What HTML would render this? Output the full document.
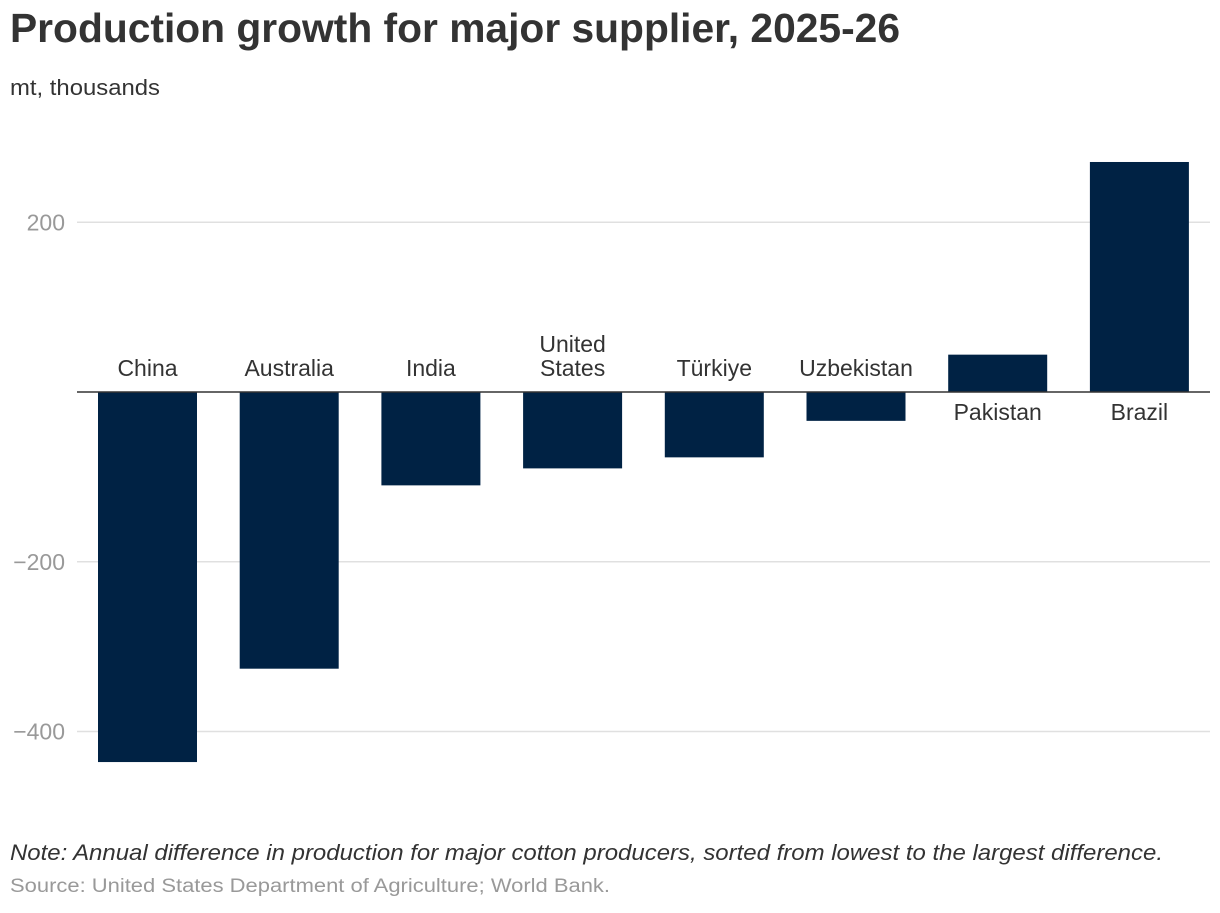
<!DOCTYPE html>
<html><head><meta charset="utf-8"><style>
body{margin:0;background:#fff;width:1220px;height:908px;overflow:hidden;font-family:"Liberation Sans",Arial,sans-serif}
svg text{font-family:"Liberation Sans",Arial,sans-serif}
</style></head><body>
<svg width="1220" height="908">
<text x="10" y="42" font-size="41" font-weight="bold" fill="#333" textLength="890" lengthAdjust="spacingAndGlyphs">Production growth for major supplier, 2025-26</text>
<text x="10" y="95" font-size="22" fill="#333" textLength="150" lengthAdjust="spacingAndGlyphs">mt, thousands</text>
<g id="grid"></g><g id="bars"></g><g id="labels"></g>
<text x="10" y="860" font-size="22" font-style="italic" fill="#333" textLength="1153" lengthAdjust="spacingAndGlyphs">Note: Annual difference in production for major cotton producers, sorted from lowest to the largest difference.</text>
<text x="10" y="892" font-size="19" fill="#999" textLength="600" lengthAdjust="spacingAndGlyphs">Source: United States Department of Agriculture; World Bank.</text>
</svg>
<script>
const categories=["China","Australia","India","United States","Türkiye","Uzbekistan","Pakistan","Brazil"];
const values=[-436,-326,-110,-90,-77,-34,44,271];
const ticks=[200,-200,-400];
const tickLabels=["200","\u2212200","\u2212400"];
const NS="http://www.w3.org/2000/svg";
const y0=392,k=169.75/200,step=141.7,bw=99,xs=98-(step-bw)/2;
const y=v=>y0-v*k;
const x=i=>xs+i*step+(step-bw)/2;
function mk(t,a,p){const e=document.createElementNS(NS,t);for(const n in a)e.setAttribute(n,a[n]);p.appendChild(e);return e;}
const g=document.getElementById('grid'),b=document.getElementById('bars'),l=document.getElementById('labels');
ticks.forEach((t,i)=>{
 const ln=mk('line',{x1:77,x2:1210,y1:y(t),y2:y(t),stroke:'#e0e0e0','stroke-width':1.5},g);
 
 
 const tx=mk('text',{x:65,y:y(t)+8,'text-anchor':'end','font-size':23,fill:'#999'},g);
 tx.textContent=tickLabels[i];
 
 
});
values.forEach((v,i)=>{
 const r=mk('rect',{x:x(i),width:bw,y:Math.min(y(v),y0),height:Math.abs(y(v)-y0),fill:'#002244'},b);
 
 
 const cx=x(i)+bw/2;
 const words=categories[i]==="United States"?["United","States"]:[categories[i]];
 const t=mk('text',{'text-anchor':'middle','font-size':23,fill:'#333'},l);
 
 
 const base=v<0?y0-16:y0+28;
 words.forEach((w,j)=>{const s=mk('tspan',{x:cx,y:base-(words.length-1-j)*24},t);s.textContent=w;});
});
const z=mk('line',{x1:77,x2:1210,y1:y0,y2:y0,stroke:'#333','stroke-width':1.5},l);


</script>
</body></html>
